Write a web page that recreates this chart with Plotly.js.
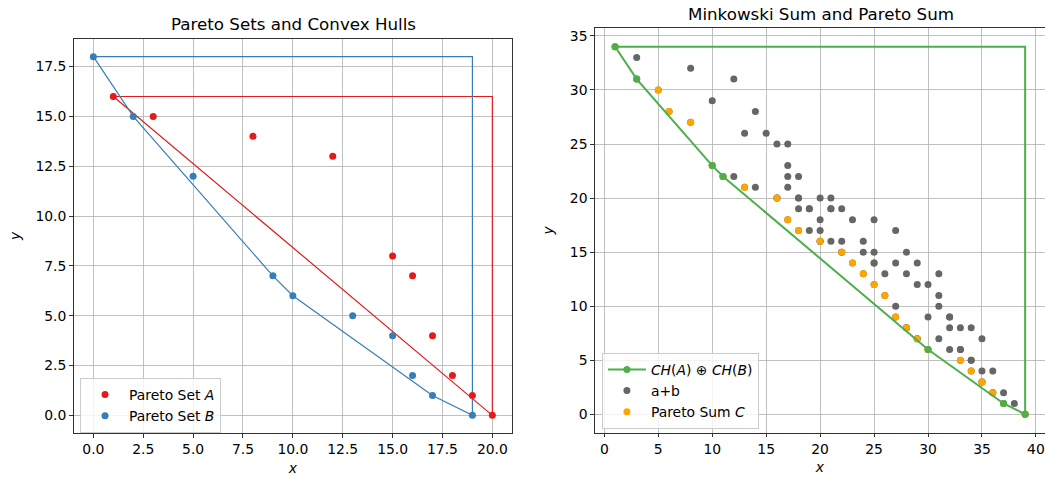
<!DOCTYPE html>
<html>
<head>
<meta charset="utf-8">
<script src="https://cdn.plot.ly/plotly-3.0.1.min.js"></script>
<style>html,body{margin:0;padding:0;background:#fff;} #chart{width:1045px;height:477px;}</style>
</head>
<body>
<div id="chart"></div>
<script>
// ---- Left panel data ----
const setAX = [1, 3, 8, 12, 15, 16, 17, 18, 19, 20];
const setAY = [16, 15, 14, 13, 8, 7, 4, 2, 1, 0];
const setBX = [0, 2, 5, 9, 10, 13, 15, 16, 17, 19];
const setBY = [18, 15, 12, 7, 6, 5, 4, 2, 1, 0];
// convex hull outlines (closed with the upper-right corner)
const hullAX = [1, 20, 20, 1];
const hullAY = [16, 0, 16, 16];
const hullBX = [0, 2, 9, 10, 17, 19, 19, 0];
const hullBY = [18, 15, 7, 6, 1, 0, 18, 18];

// ---- Right panel data ----
const sumX = [1,3,6,10,11,14,16,17,18,20, 3,5,8,12,13,16,18,19,20,22, 8,10,13,17,18,21,23,24,25,27,
              12,14,17,21,22,25,27,28,29,31, 15,17,20,24,25,28,30,31,32,34, 16,18,21,25,26,29,31,32,33,35,
              17,19,22,26,27,30,32,33,34,36, 18,20,23,27,28,31,33,34,35,37, 19,21,24,28,29,32,34,35,36,38,
              20,22,25,29,30,33,35,36,37,39];
const sumY = [34,31,28,23,22,21,20,18,17,16, 33,30,27,22,21,20,19,17,16,15, 32,29,26,21,20,19,18,16,15,14,
              31,28,25,20,19,18,17,15,14,13, 26,23,20,15,14,13,12,10,9,8, 25,22,19,14,13,12,11,9,8,7,
              22,19,16,11,10,9,8,6,5,4, 20,17,14,9,8,7,6,4,3,2, 19,16,13,8,7,6,5,3,2,1,
              18,15,12,7,6,5,4,2,1,0];
const paretoCX = [1,3,5,6,8,10,11,13,16,17,18,20,22,23,24,25,26,27,28,29,30,33,34,35,36,37,39];
const paretoCY = [34,31,30,28,27,23,22,21,20,18,17,16,15,14,13,12,11,9,8,7,6,5,4,3,2,1,0];
// vertices of CH(A) ⊕ CH(B) (lower-left chain)
const hullSumX = [1, 3, 10, 11, 30, 37, 39];
const hullSumY = [34, 31, 23, 22, 6, 1, 0];
// closing outline through the upper-right corner
const hullSumCloseX = [39, 39, 1];
const hullSumCloseY = [0, 34, 34];

const leftTicks = [0, 2.5, 5, 7.5, 10, 12.5, 15, 17.5, 20];
const leftYTicks = [0, 2.5, 5, 7.5, 10, 12.5, 15, 17.5];
const rightXTicks = [0, 5, 10, 15, 20, 25, 30, 35, 40];
const rightYTicks = [0, 5, 10, 15, 20, 25, 30, 35];

const RED = '#e41a1c', BLUE = '#377eb8', GREEN = '#4daf4a', ORANGE = '#ffa500', GRAY = '#666666';
const FONT = 'DejaVu Sans, sans-serif';

const traces = [
  {x: hullAX, y: hullAY, mode: 'lines', line: {color: RED, width: 1.2}, showlegend: false, xaxis: 'x', yaxis: 'y', hoverinfo: 'skip'},
  {x: hullBX, y: hullBY, mode: 'lines', line: {color: BLUE, width: 1.2}, showlegend: false, xaxis: 'x', yaxis: 'y', hoverinfo: 'skip'},
  {x: setAX, y: setAY, mode: 'markers', name: 'Pareto Set <i>A</i>', marker: {color: RED, size: 7}, xaxis: 'x', yaxis: 'y', legend: 'legend', legendrank: 1},
  {x: setBX, y: setBY, mode: 'markers', name: 'Pareto Set <i>B</i>', marker: {color: BLUE, size: 7}, xaxis: 'x', yaxis: 'y', legend: 'legend', legendrank: 2},
  {x: sumX, y: sumY, mode: 'markers', name: 'a+b', marker: {color: GRAY, size: 7}, xaxis: 'x2', yaxis: 'y2', legend: 'legend2', legendrank: 2},
  {x: paretoCX, y: paretoCY, mode: 'markers', name: 'Pareto Sum <i>C</i>', marker: {color: ORANGE, size: 7}, xaxis: 'x2', yaxis: 'y2', legend: 'legend2', legendrank: 3},
  {x: hullSumCloseX, y: hullSumCloseY, mode: 'lines', line: {color: GREEN, width: 2}, showlegend: false, xaxis: 'x2', yaxis: 'y2', hoverinfo: 'skip'},
  {x: hullSumX, y: hullSumY, mode: 'lines+markers', name: '<i>CH</i>(<i>A</i>) ⊕ <i>CH</i>(<i>B</i>)', line: {color: GREEN, width: 2}, marker: {color: GREEN, size: 7}, xaxis: 'x2', yaxis: 'y2', legend: 'legend2', legendrank: 1}
];

const axBase = {
  showgrid: true, gridcolor: '#b0b0b0', gridwidth: 0.8, zeroline: false,
  showline: true, linecolor: '#000', linewidth: 0.8,
  ticks: 'outside', ticklen: 3.5, tickwidth: 0.8, tickcolor: '#000',
  tickfont: {family: FONT, size: 13.9, color: '#000'}, automargin: false
};

const layout = {
  width: 1045, height: 477,
  margin: {l: 0, r: 0, t: 0, b: 0},
  paper_bgcolor: '#fff', plot_bgcolor: '#fff',
  font: {family: FONT, color: '#000'},
  xaxis: Object.assign({}, axBase, {domain: [0.07024, 0.49024], range: [-1, 21], tickvals: leftTicks, ticktext: leftTicks.map(v => v.toFixed(1)), mirror: true, anchor: 'y',
    title: {text: '<i>x</i>', font: {family: FONT, size: 13.9}, standoff: 6}}),
  yaxis: Object.assign({}, axBase, {domain: [0.09161, 0.91887], range: [-0.9, 18.9], tickvals: leftYTicks, ticktext: leftYTicks.map(v => v.toFixed(1)), mirror: true, anchor: 'x',
    title: {text: '<i>y</i>', font: {family: FONT, size: 13.9}, standoff: 11}}),
  xaxis2: Object.assign({}, axBase, {domain: [0.56900, 1], range: [-0.9, 40.84], tickvals: rightXTicks, ticktext: rightXTicks.map(String), mirror: true, anchor: 'y2',
    title: {text: '<i>x</i>', font: {family: FONT, size: 13.9}, standoff: 6}}),
  yaxis2: Object.assign({}, axBase, {domain: [0.09287, 0.94067], range: [-1.7, 35.7], tickvals: rightYTicks, ticktext: rightYTicks.map(String), mirror: false, anchor: 'x2',
    title: {text: '<i>y</i>', font: {family: FONT, size: 13.9}, standoff: 12}}),
  legend: {x: 0.0766, y: 0.2075, xanchor: 'left', yanchor: 'top', bgcolor: 'rgba(255,255,255,0.8)', bordercolor: '#cccccc', borderwidth: 1,
    itemwidth: 38, font: {family: FONT, size: 13.9, color: '#000'}},
  legend2: {x: 0.576, y: 0.26, xanchor: 'left', yanchor: 'top', bgcolor: 'rgba(255,255,255,0.8)', bordercolor: '#cccccc', borderwidth: 1,
    itemwidth: 38, font: {family: FONT, size: 13.9, color: '#000'}},
  annotations: [
    {text: 'Pareto Sets and Convex Hulls', xref: 'paper', yref: 'paper', x: 0.2804, y: 0.9498, xanchor: 'center', yanchor: 'middle', showarrow: false,
      font: {family: FONT, size: 16.7, color: '#000'}},
    {text: 'Minkowski Sum and Pareto Sum', xref: 'paper', yref: 'paper', x: 0.7856, y: 0.9706, xanchor: 'center', yanchor: 'middle', showarrow: false,
      font: {family: FONT, size: 16.7, color: '#000'}}
  ],
  showlegend: true
};

Plotly.newPlot('chart', traces, layout, {staticPlot: true, displayModeBar: false});
</script>
</body>
</html>
